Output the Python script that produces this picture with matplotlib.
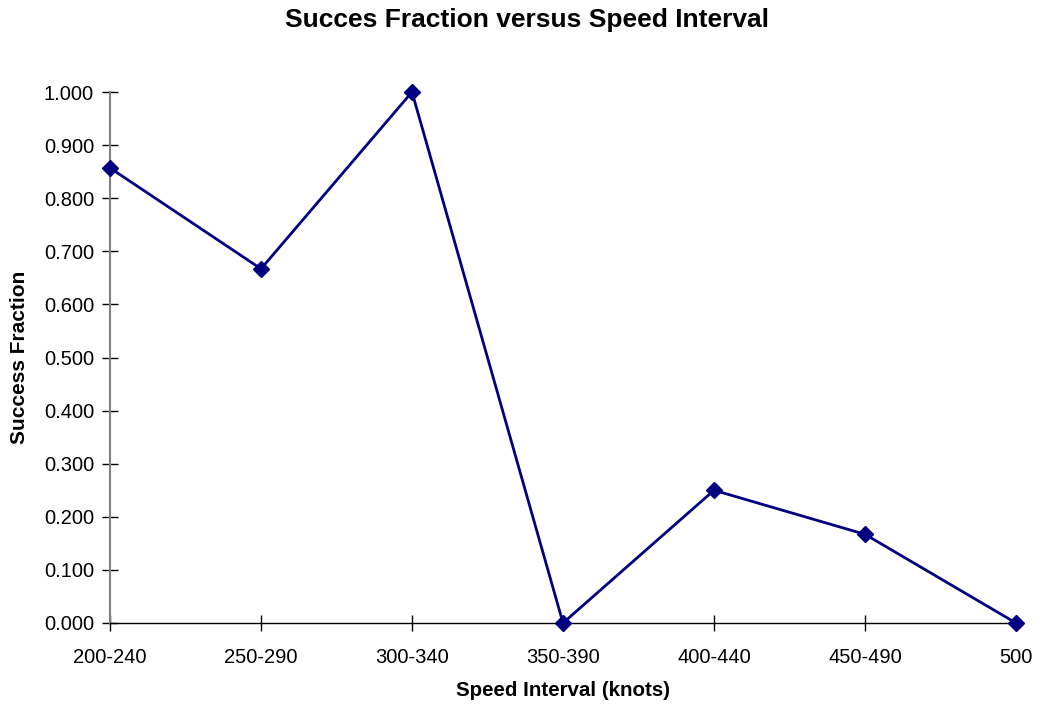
import matplotlib
matplotlib.use("Agg")
import matplotlib.pyplot as plt

categories = ["200-240", "250-290", "300-340", "350-390", "400-440", "450-490", "500"]
success_fraction = [0.857, 0.667, 1.000, 0.000, 0.250, 0.167, 0.000]
y_ticks = [0.0, 0.1, 0.2, 0.3, 0.4, 0.5, 0.6, 0.7, 0.8, 0.9, 1.0]

plt.rcParams['font.family'] = ['Liberation Sans', 'DejaVu Sans']

fig = plt.figure(figsize=(10.49, 7.04), dpi=100)
W, H = 1049, 704
ax = fig.add_axes([110 / W, 1 - 623 / H, (1016 - 110) / W, (623 - 92) / H])

x = list(range(len(categories)))
ax.plot(x, success_fraction, color="#000080", linewidth=2, marker="D",
        markersize=8.5, markerfacecolor="#000080", markeredgecolor="#000080",
        clip_on=False, zorder=5)

ax.set_xlim(0, len(categories) - 1)
ax.set_ylim(0, 1.0)
ax.set_xticks(x)
ax.set_xticklabels(categories, fontsize=14.5)
ax.set_yticks(y_ticks)
ax.set_yticklabels([f"{v:.3f}" for v in y_ticks], fontsize=14.5)

for s in ["top", "right"]:
    ax.spines[s].set_visible(False)
ax.spines["left"].set_color("#808080")
ax.spines["left"].set_linewidth(1.5)
ax.spines["bottom"].set_color("black")
ax.spines["bottom"].set_linewidth(1.0)

ax.tick_params(axis="y", direction="inout", length=11, width=1, color="black", pad=6)
ax.tick_params(axis="x", direction="inout", length=12, width=1, color="black", pad=12)

fig.text(563 / W, 1 - 690 / H, "Speed Interval (knots)", ha="center", va="center",
         fontsize=14.8, fontweight="bold")
fig.text(20 / W, 1 - 357 / H, "Success Fraction", ha="center", va="center",
         rotation=90, fontsize=15, fontweight="bold")
fig.text(527 / W, 1 - 20 / H, "Succes Fraction versus Speed Interval",
         ha="center", va="center", fontsize=19, fontweight="bold")

fig.savefig("out.png", dpi=100)
